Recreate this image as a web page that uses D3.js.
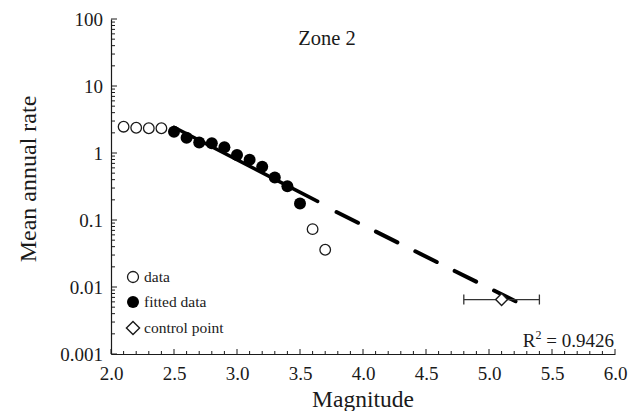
<!DOCTYPE html>
<html>
<head>
<meta charset="utf-8">
<script src="https://cdn.jsdelivr.net/npm/d3@7"></script>
<style>
  html, body { margin: 0; padding: 0; background: #fff; }
  svg text { font-family: "Liberation Serif", "Times New Roman", Times, "Tinos", "DejaVu Serif", serif !important; }
</style>
</head>
<body>
<svg id="chart" width="639" height="411"></svg>
<script>
// ---- data ----
const openMag = [2.1, 2.2, 2.3, 2.4, 3.6, 3.7];
const openRate = [2.47, 2.38, 2.34, 2.34, 0.073, 0.036];
const fittedMag = [2.5, 2.6, 2.7, 2.8, 2.9, 3.0, 3.1, 3.2, 3.3, 3.4, 3.5];
const fittedRate = [2.08, 1.69, 1.43, 1.40, 1.22, 0.93, 0.79, 0.625, 0.43, 0.32, 0.177];
const solidFitMag = [2.5, 3.64];
const solidFitRate = [2.42, 0.19];
const dashFitMag = [3.79, 5.22];
const dashFitRate = [0.1315, 0.006];
const controlMag = [5.1];
const controlRate = [0.0065];
const controlErrLow = [4.8];
const controlErrHigh = [5.4];
const xTickValues = [2.0, 2.5, 3.0, 3.5, 4.0, 4.5, 5.0, 5.5, 6.0];
const yTickValues = [0.001, 0.01, 0.1, 1, 10, 100];
const yTickLabels = ["0.001", "0.01", "0.1", "1", "10", "100"];
const legendLabels = ["data", "fitted data", "control point"];

// ---- layout ----
const svg = d3.select("#chart");
const x = d3.scaleLinear().domain([2, 6]).range([111, 615]);
const y = d3.scaleLog().domain([0.001, 100]).range([354, 19]);
const ink = "#1a1a1a";

// axes
const xAxis = d3.axisBottom(x).tickValues(xTickValues).tickSize(0).tickPadding(0)
  .tickFormat(d3.format(".1f"));
const gx = svg.append("g").attr("transform", "translate(0,354)").call(xAxis);
gx.select(".domain").attr("stroke", ink).attr("stroke-width", 1.2);
gx.selectAll(".tick text").attr("font-size", 19).attr("fill", ink)
  .attr("dy", 0).attr("y", 26);

// x minor ticks (inside, upward)
const xMinor = d3.range(20, 61).map(v => v / 10);
svg.append("g").selectAll("line").data(xMinor).join("line")
  .attr("x1", d => x(d)).attr("x2", d => x(d))
  .attr("y1", 354).attr("y2", (d, i) => (i % 5 === 0) ? 349 : 351)
  .attr("stroke", ink).attr("stroke-width", 1);

const yAxis = d3.axisLeft(y).tickValues(yTickValues).tickSize(0).tickPadding(8)
  .tickFormat((d, i) => yTickLabels[i]);
const gy = svg.append("g").attr("transform", "translate(111,0)").call(yAxis);
gy.select(".domain").attr("stroke", ink).attr("stroke-width", 1.2);
gy.selectAll(".tick text").attr("font-size", 19).attr("fill", ink);

// y minor ticks (inside, to the right)
const yMinor = [];
for (let e = -3; e < 2; e++) {
  for (let m = 1; m <= 9; m++) yMinor.push(m * Math.pow(10, e));
}
yMinor.push(100);
svg.append("g").selectAll("line").data(yMinor).join("line")
  .attr("x1", 111).attr("x2", d => (Math.abs(Math.log10(d) - Math.round(Math.log10(d))) < 1e-9) ? 117 : 115)
  .attr("y1", d => y(d)).attr("y2", d => y(d))
  .attr("stroke", ink).attr("stroke-width", 1);

// fitted line (solid part)
const line = d3.line().x(d => x(d[0])).y(d => y(d[1]));
svg.append("path")
  .attr("d", line(solidFitMag.map((m, i) => [m, solidFitRate[i]])))
  .attr("fill", "none").attr("stroke", "#000").attr("stroke-width", 3.5)
  .attr("stroke-linecap", "round");

// fitted line (dashed extrapolation)
svg.append("path")
  .attr("d", line(dashFitMag.map((m, i) => [m, dashFitRate[i]])))
  .attr("fill", "none").attr("stroke", "#000").attr("stroke-width", 4)
  .attr("stroke-dasharray", "24,20").attr("stroke-linecap", "round");

// open circles (data)
svg.append("g").selectAll("circle").data(openMag.map((m, i) => [m, openRate[i]])).join("circle")
  .attr("cx", d => x(d[0])).attr("cy", d => y(d[1])).attr("r", 5.3)
  .attr("fill", "#fff").attr("stroke", ink).attr("stroke-width", 1.3);

// filled circles (fitted data)
svg.append("g").selectAll("circle").data(fittedMag.map((m, i) => [m, fittedRate[i]])).join("circle")
  .attr("cx", d => x(d[0])).attr("cy", d => y(d[1])).attr("r", 6)
  .attr("fill", "#000");

// control point with error bar
const ctrl = controlMag.map((m, i) => ({m, r: controlRate[i], lo: controlErrLow[i], hi: controlErrHigh[i]}));
const cg = svg.append("g");
ctrl.forEach(c => {
  const cy = y(c.r);
  cg.append("line").attr("x1", x(c.lo)).attr("x2", x(c.hi)).attr("y1", cy).attr("y2", cy)
    .attr("stroke", "#333").attr("stroke-width", 1.3);
  [c.lo, c.hi].forEach(v => cg.append("line").attr("x1", x(v)).attr("x2", x(v))
    .attr("y1", cy - 5).attr("y2", cy + 5).attr("stroke", "#333").attr("stroke-width", 1.3));
  cg.append("path").attr("d", d3.symbol(d3.symbolDiamond2, 90)())
    .attr("transform", `translate(${x(c.m)},${cy})`)
    .attr("fill", "#fff").attr("stroke", ink).attr("stroke-width", 1.4);
});

// legend
const lg = svg.append("g");
const ly = [277, 302, 328];
lg.append("circle").attr("cx", 133).attr("cy", ly[0]).attr("r", 5.5)
  .attr("fill", "#fff").attr("stroke", ink).attr("stroke-width", 1.3);
lg.append("circle").attr("cx", 133).attr("cy", ly[1]).attr("r", 6).attr("fill", "#000");
lg.append("path").attr("d", d3.symbol(d3.symbolDiamond2, 110)())
  .attr("transform", `translate(133,${ly[2]})`)
  .attr("fill", "#fff").attr("stroke", ink).attr("stroke-width", 1.4);
legendLabels.forEach((t, i) => {
  lg.append("text").attr("x", 144).attr("y", ly[i]).attr("dy", "0.33em")
    .attr("font-size", 15.5).attr("fill", ink).text(t);
});

// title
svg.append("text").attr("x", 327).attr("y", 45).attr("text-anchor", "middle")
  .attr("font-size", 20.5).attr("fill", ink).text("Zone 2");

// R^2 annotation
const rt = svg.append("text").attr("x", 614).attr("y", 347).attr("text-anchor", "end")
  .attr("font-size", 19).attr("fill", ink);
rt.append("tspan").text("R");
rt.append("tspan").attr("font-size", 12).attr("dy", -8).text("2");
rt.append("tspan").attr("dy", 8).text(" = 0.9426");

// axis titles
svg.append("text").attr("x", 363).attr("y", 407).attr("text-anchor", "middle")
  .attr("font-size", 23.5).attr("fill", ink).text("Magnitude");
svg.append("text").attr("transform", "translate(36,179) rotate(-90)")
  .attr("text-anchor", "middle").attr("font-size", 24).attr("fill", ink).text("Mean annual rate");
</script>
</body>
</html>
